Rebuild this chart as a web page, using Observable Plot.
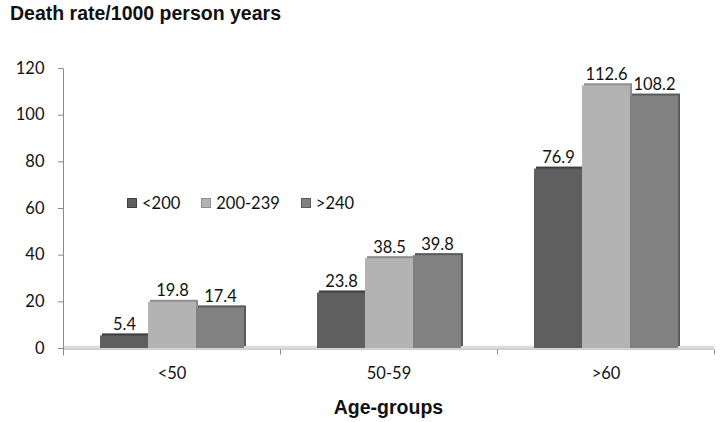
<!DOCTYPE html>
<html>
<head>
<meta charset="utf-8">
<script src="https://cdn.jsdelivr.net/npm/d3@7"></script>
<script src="https://cdn.jsdelivr.net/npm/@observablehq/plot@0.6"></script>
<style>
  html, body { margin: 0; padding: 0; background: #fff; }
  #wrap { position: relative; width: 722px; height: 422px; overflow: hidden; font-family: "Lato", sans-serif; color: #111; }
  #title { position: absolute; left: 10px; top: 2px; font: bold 19.5px "Liberation Sans", Arial, sans-serif; color: #111; white-space: nowrap; }
  #xlabel { position: absolute; left: 62px; width: 653px; top: 396px; text-align: center; font: bold 19.5px "Liberation Sans", Arial, sans-serif; color: #111; }
  #legend { position: absolute; left: 127px; top: 193px; display: flex; font-size: 16.5px; color: #111; }
  #legend .item { display: flex; align-items: center; margin-right: 21px; }
  #legend .sw { width: 10px; height: 10px; margin-right: 5px; box-sizing: border-box; }
  svg { position: absolute; left: 0; top: 0; }
</style>
</head>
<body>
<div id="wrap">
  <div id="chart"></div>
  <div id="title">Death rate/1000 person years</div>
  <div id="legend"></div>
  <div id="xlabel">Age-groups</div>
</div>
<script>
const ageGroups = ["<50", "50-59", ">60"];
const series = ["<200", "200-239", ">240"];
const valuesLow = [5.4, 23.8, 76.9];    // <200
const valuesMid = [19.8, 38.5, 112.6];  // 200-239
const valuesHigh = [17.4, 39.8, 108.2]; // >240
const yTicks = [0, 20, 40, 60, 80, 100, 120];

const colors = ["#5f5f5f", "#b3b3b3", "#818181"];
const shadeColors = ["#3e3e3e", "#8e8e8e", "#5a5a5a"];

const seriesValues = [valuesLow, valuesMid, valuesHigh];
const data = [];
ageGroups.forEach((g, i) => {
  series.forEach((s, j) => {
    data.push({age: g, chol: s, value: seriesValues[j][i]});
  });
});

const chart = Plot.plot({
  width: 722,
  height: 422,
  marginTop: 68,
  marginBottom: 74,
  marginLeft: 62,
  marginRight: 8,
  style: {fontFamily: "Lato, sans-serif", fontSize: "16.5px", color: "#111", background: "transparent"},
  fx: {domain: ageGroups, padding: 0, label: null},
  x: {domain: series, paddingInner: 0, paddingOuter: 0.73, axis: null},
  y: {domain: [0, 120], label: null},
  color: {domain: series, range: colors},
  marks: [
    // floor
    Plot.ruleY([0], {stroke: "#a0a0a0", strokeWidth: 1, dy: 0.5}),
    Plot.ruleY([0], {stroke: "#dcdcdc", strokeWidth: 2.5, dy: -1.5}),
    // boundary ticks
    Plot.frame({anchor: "right", insetTop: 281, insetBottom: -6, stroke: "#8a8a8a", strokeLinecap: "butt"}),
    // y axis line
    Plot.frame({anchor: "left", facetAnchor: "left", insetBottom: -7, stroke: "#8a8a8a", strokeLinecap: "butt"}),
    Plot.axisY({ticks: yTicks, tickSize: 5, tickPadding: 14, stroke: "#8a8a8a", fill: "#111", fontSize: 16.5, label: null, facetAnchor: "left"}),
    // 3D depth
    Plot.rectY(data, {fx: "age", x: "chol", y: "value", fill: (d) => shadeColors[series.indexOf(d.chol)], dx: 2, dy: -2}),
    // bars
    Plot.rectY(data, {fx: "age", x: "chol", y: "value", fill: "chol"}),
    // labels
    Plot.text(data, {fx: "age", x: "chol", y: "value", text: (d) => d.value.toFixed(1), dy: -6, lineAnchor: "bottom", fontSize: 16.5, fill: "#111"}),
    Plot.axisFx({anchor: "bottom", tickSize: 0, tickPadding: 19, fontSize: 16.5, fill: "#111", label: null})
  ]
});
document.getElementById("chart").appendChild(chart);

const legend = document.getElementById("legend");
series.forEach((s, j) => {
  const item = document.createElement("div");
  item.className = "item";
  const sw = document.createElement("div");
  sw.className = "sw";
  sw.style.background = colors[j];
  sw.style.border = "1px solid " + shadeColors[j];
  const lab = document.createElement("span");
  lab.textContent = s;
  item.appendChild(sw);
  item.appendChild(lab);
  legend.appendChild(item);
});
</script>
</body>
</html>
